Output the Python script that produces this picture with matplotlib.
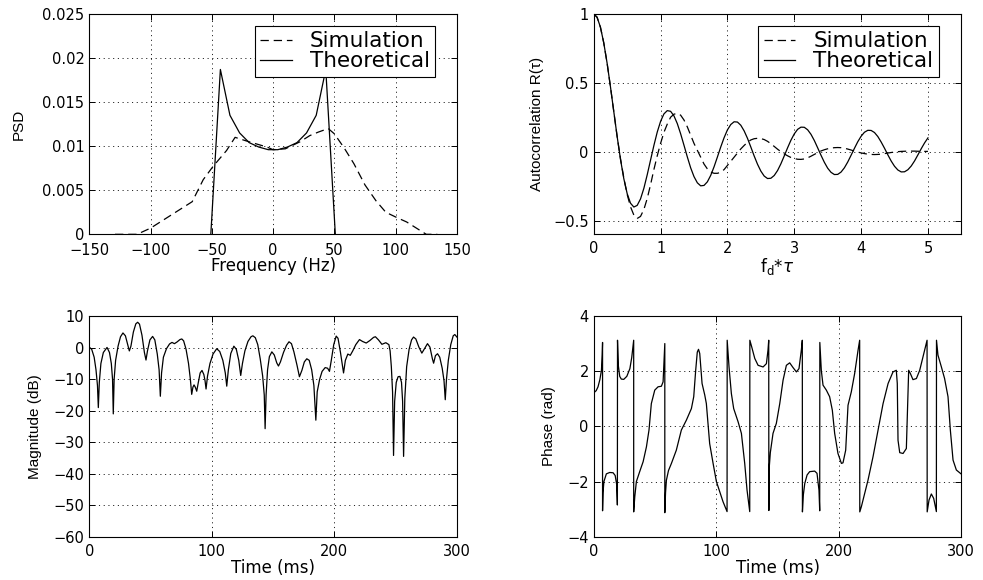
import matplotlib
matplotlib.use("Agg")
import matplotlib.pyplot as plt
from matplotlib.ticker import FuncFormatter, MultipleLocator
import numpy as np

# ---------------- data ----------------
# PSD (top-left)
psd_sim_f = [-129, -111, -100, -66, -57, -49, -38, -31, -22, -5, 0, 10, 22, 30, 37, 45,
             50, 58, 66, 75, 84, 92, 101, 109, 117, 125, 134]
psd_sim = [0, 0, 0.0007, 0.0037, 0.0062, 0.0077, 0.0095, 0.0110, 0.0106, 0.0099, 0.0096,
           0.0097, 0.0105, 0.0112, 0.0116, 0.0120, 0.0114, 0.0098, 0.0080, 0.0056, 0.0038,
           0.0025, 0.0019, 0.0014, 0.0007, 0, 0]
psd_th_f = [-50.8, -43.0, -35.2, -27.3, -19.5, -11.7, -3.9, 3.9, 11.7, 19.5, 27.3, 35.2, 43.0, 50.8]
psd_th = [0, 0.0187, 0.0135, 0.0115, 0.0104, 0.0099, 0.0096, 0.0096, 0.0099, 0.0104,
          0.0115, 0.0135, 0.0187, 0]

# Autocorrelation (top-right), tau axis 0..5 step 0.05
ac_tau = [round(0.05 * k, 2) for k in range(101)]
ac_th = [1.000, 0.976, 0.904, 0.790, 0.643, 0.472, 0.291, 0.111, -0.055, -0.196,
         -0.304, -0.374, -0.402, -0.390, -0.343, -0.266, -0.168, -0.061, 0.045, 0.142,
         0.220, 0.274, 0.298, 0.293, 0.260, 0.204, 0.130, 0.047, -0.038, -0.117,
         -0.181, -0.226, -0.248, -0.245, -0.219, -0.172, -0.110, -0.039, 0.034, 0.101,
         0.158, 0.197, 0.217, 0.215, 0.192, 0.151, 0.097, 0.034, -0.031, -0.091,
         -0.141, -0.177, -0.195, -0.193, -0.173, -0.137, -0.088, -0.031, 0.028, 0.083,
         0.129, 0.162, 0.178, 0.177, 0.159, 0.126, 0.081, 0.028, -0.026, -0.077,
         -0.120, -0.150, -0.166, -0.165, -0.148, -0.117, -0.075, -0.026, 0.024, 0.072,
         0.112, 0.141, 0.155, 0.154, 0.139, 0.110, 0.070, 0.025, -0.023, -0.068,
         -0.106, -0.133, -0.147, -0.146, -0.131, -0.104, -0.067, -0.023, 0.022, 0.064,
         0.100]
ac_sim = [1.000, 0.976, 0.904, 0.790, 0.643, 0.472, 0.291, 0.111, -0.050, -0.190,
          -0.310, -0.400, -0.460, -0.485, -0.470, -0.420, -0.340, -0.240, -0.130, -0.030,
          0.060, 0.140, 0.200, 0.250, 0.272, 0.278, 0.265, 0.230, 0.180, 0.120,
          0.060, 0.010, -0.040, -0.090, -0.125, -0.148, -0.157, -0.157, -0.150, -0.130,
          -0.100, -0.070, -0.040, -0.010, 0.020, 0.045, 0.068, 0.085, 0.094, 0.097,
          0.095, 0.088, 0.075, 0.058, 0.038, 0.018, 0.000, -0.016, -0.030, -0.042,
          -0.050, -0.055, -0.056, -0.053, -0.045, -0.033, -0.020, -0.007, 0.005, 0.014,
          0.021, 0.026, 0.029, 0.030, 0.029, 0.025, 0.019, 0.012, 0.004, -0.003,
          -0.009, -0.014, -0.018, -0.020, -0.021, -0.020, -0.018, -0.014, -0.010, -0.006,
          -0.003, 0.000, 0.002, 0.003, 0.004, 0.004, 0.004, 0.003, 0.003, 0.002,
          0.002]

# Magnitude in dB (bottom-left)
mag_t = [0, 2, 4, 5.5, 6.7, 7.4, 8.2, 9.5, 11.5, 14.5, 16.5, 18, 19, 19.6, 20.3, 21.5, 23.5,
         25.5, 27.5, 29.5, 31.5, 32.7, 34, 36, 38, 39.5, 41, 43, 45, 46.3, 47.5, 49.5, 51.7,
         53.5, 55.5, 57, 58, 59, 60.5, 63, 65.5, 67.5, 69.5, 71.5, 74, 75.5, 77, 79, 81,
         82.5, 83.6, 84.6, 85.5, 86.5, 87.7, 89, 90.5, 92, 93.5, 94.5, 95.3, 96.5, 98.5,
         101, 104, 106.5, 109, 111, 112.2, 113.5, 115.5, 118, 120, 122, 123.6, 125, 127,
         129.5, 132, 133.5, 135.5, 137.5, 139.5, 141.5, 142.8, 143.5, 144.3, 145.5, 147,
         149, 151, 153, 154.4, 156, 158.5, 161, 163, 165, 167, 169.5, 171.5, 173.5, 175.5,
         177.5, 179.5, 181.5, 183.3, 184.9, 186, 188, 190, 192.5, 194.5, 196, 197.5, 199.5,
         201.5, 203, 205, 207.5, 209, 211, 213, 215, 217.5, 220.5, 223, 226, 229, 232,
         233.5, 236, 238.8, 242, 244.5, 245.5, 246.5, 247.5, 248.3, 249.2, 250.5, 252,
         253.5, 254.8, 255.7, 256.5, 257.5, 259, 261, 263, 264.6, 266.5, 269, 271.4, 273.5,
         276, 278, 280, 281, 282.5, 284.2, 286, 288, 289.5, 290.5, 291.5, 293, 295, 297,
         298.3, 300]
mag_db = [0.2, -0.5, -3, -7, -12, -19, -11, -5, -1.5, 0.1, -1.5, -5, -10, -21, -10, -4, 0.5,
          3.5, 4.7, 3.8, 0.8, -1.0, 0.5, 5, 7.6, 8.1, 7.5, 4, -1.5, -3.9, -1, 2.5, 3.6,
          2.5, -2, -7, -15.4, -8, -3, -0.3, 1.2, 1.7, 1.3, 1.8, 2.6, 2.8, 2.2, -0.5, -5,
          -10, -14.8, -12.5, -11.8, -12.5, -13.8, -11, -8, -7.2, -8.5, -10.5, -13.1, -9, -5,
          -2, -0.3, -1.2, -4, -8, -12.2, -7, -1.8, 0.5, -0.5, -4, -8.8, -5, -1,
          2, 3.5, 3.8, 3.2, 1, -3.5, -9, -15, -25.7, -15, -7, -2.8,
          -1.3, -2.3, -4.8, -5.8, -4.5, -1.5, 0.8, 1.9, 1.3, -1.3, -5.5, -9.2, -7.2, -4.5,
          -3.5, -4, -7, -12, -23, -14, -10, -7.5, -6.3, -6.5, -7.5, -4, 1,
          3.7, 3, -1.5, -8, -4, -2, -2.4, -1, 1, 2.6, 2, 1.5, 2.3, 3.3,
          3.5, 2.5, 1.1, 1.6, 1, -1, -6, -14, -34.2, -17, -11, -9.2,
          -9.1, -11, -17, -34.5, -16, -6, -0.5, 2.5, 3.4, 2.8, 0.2, -1.7, -0.3,
          1.3, 0.2, -3.5, -4.9, -2.5, -1.9, -3, -6.5, -10.5, -16.5, -10, -4, 1, 3.8,
          4.2, 3.4]

# Phase in rad (bottom-right)
ph_t = [0, 2, 3.5, 5, 6.3, 6.9, 7.2, 7.2, 7.6, 8.3, 10.3, 13, 15.8, 17.5, 18.7, 19.3, 19.4,
        20.1, 21.2, 22.5, 24.5, 27, 29.5, 31, 32.2, 32.6, 32.6, 33.5, 34.8, 37.5, 40.3, 43,
        45.1, 47, 49.8, 52.5, 55.2, 56.6, 57.5, 58.0, 58.0, 58.6, 59.3, 61, 63.4, 67.4,
        71.5, 75.6, 79.7, 81.6, 83.2, 84.5, 85.5, 86.5, 88.4, 90.6, 91.9, 94.6, 97.4,
        100.1, 102.8, 105.5, 108.8, 108.9, 110.4, 112.3, 114.2, 117.8, 120.5, 123.2, 125.1,
        127.3, 127.4, 128.9, 131.4, 134.1, 138.2, 140.9, 142.2, 142.8, 142.9, 143.2, 144.1,
        146.3, 149, 151.8, 154.5, 157.2, 159.9, 162.6, 165.4, 167.5, 169.4, 170.2, 170.3,
        171, 172.2, 174.1, 176.2, 180.3, 182.2, 183.8, 184.4, 184.5, 185.7, 187.1, 189.8,
        192.5, 194.7, 196.6, 199.3, 202.1, 203.4, 205.6, 207.5, 210.2, 212.9, 215.7, 217.0,
        217.1, 218.4, 221.1, 223.8, 227.9, 232, 236.1, 240.2, 244.2, 246.9, 247.7, 248.3,
        249.7, 252.4, 255.1, 256, 257, 258.4, 260.5, 263.3, 266, 268.7, 272, 272.1, 273.6,
        275.5, 277.4, 279.6, 279.7, 280.9, 283.7, 286.3, 289.1, 291, 293.2, 295.9, 300]
ph_rad = [1.22, 1.30, 1.44, 1.7, 2.04, 2.6, 3.05, -3.06, -2.4, -2.0, -1.72, -1.67, -1.68,
          -1.78, -2.1, -2.85, 3.13, 2.2, 1.82, 1.72, 1.71, 1.82, 2.1, 2.5, 3.0, 3.13, -3.1,
          -2.55, -2.0, -1.64, -1.28, -0.74, -0.13, 0.83, 1.32, 1.44, 1.46, 1.62, 2.5, 3.01,
          -3.13, -2.4, -1.95, -1.6, -1.34, -0.86, -0.13, 0.23, 0.65, 1.08, 2.04, 2.7, 2.8,
          2.65, 1.56, 1.14, 0.83, -0.62, -1.34, -2.0, -2.37, -2.73, -3.09, 3.13, 2.16, 1.2,
          0.65, 0.17, -0.25, -1.34, -2.31, -3.09, 3.13, 2.89, 2.47, 2.22, 2.16, 2.28, 2.77,
          3.13, -3.05, -1.5, -0.95, -0.25, 0.11, 0.83, 1.68, 2.22, 2.31, 2.14, 1.98, 2.1,
          2.77, 3.13, -3.1, -2.5, -2.07, -1.76, -1.64, -1.62, -1.7, -2.31, -3.06, 3.05, 2.04,
          1.5, 1.32, 1.08, 0.59, -0.25, -0.98, -1.34, -1.32, -0.86, 0.77, 1.26, 1.92, 2.77,
          3.13, -3.1, -2.91, -2.43, -1.95, -1.10, -0.13, 0.83, 1.56, 1.98, 2.04, 1.56, -0.5,
          -0.95, -0.98, -0.80, 0.5, 2.04, 1.92, 1.70, 1.74, 2.04, 2.53, 3.13, -3.1, -2.67,
          -2.45, -2.61, -3.09, 3.13, 2.59, 2.16, 1.74, 1.08, -0.13, -1.22, -1.58, -1.73]

# ---------------- style ----------------
plt.rcParams['font.family'] = ['DejaVu Sans']
plt.rcParams['lines.scale_dashes'] = False
plt.rcParams['axes.linewidth'] = 0.8
plt.rcParams['xtick.direction'] = 'in'
plt.rcParams['ytick.direction'] = 'in'
plt.rcParams['xtick.top'] = True
plt.rcParams['ytick.right'] = True
plt.rcParams['xtick.major.size'] = 4
plt.rcParams['ytick.major.size'] = 4
plt.rcParams['xtick.major.width'] = 0.7
plt.rcParams['ytick.major.width'] = 0.7
plt.rcParams['xtick.labelsize'] = 10.5
plt.rcParams['ytick.labelsize'] = 10.5
plt.rcParams['xtick.major.pad'] = 5
plt.rcParams['ytick.major.pad'] = 3.5

XLAB_FS = 12
YLAB_FONT = dict(family=['Liberation Sans', 'DejaVu Sans'], size=11)
GRID = dict(color='k', linestyle=(0, (0.8, 2.6)), linewidth=0.6)
LW = 0.9
DASH = (0, (6, 3.5))
LEG = dict(loc='upper right', borderaxespad=0, fontsize=15.5, frameon=True,
           fancybox=False, framealpha=1, edgecolor='k', handlelength=1.45,
           handletextpad=0.85, labelspacing=0.0, borderpad=0.25)


def fmt(v, p):
    s = '%g' % v
    return s.replace('-', '\u2212')


def style(ax):
    ax.grid(True, **GRID)
    ax.xaxis.set_major_formatter(FuncFormatter(fmt))
    ax.yaxis.set_major_formatter(FuncFormatter(fmt))


fig = plt.figure(figsize=(9.83, 5.8), dpi=100)
L1, L2, W = 0.0908, 0.6040, 0.3740
B1, B2, H = 0.596, 0.0747, 0.380

# --- PSD ---
ax1 = fig.add_axes([L1, B1, W, H])
ax1.plot(psd_sim_f, psd_sim, color='k', lw=LW, linestyle=DASH, label='Simulation')
ax1.plot(psd_th_f, psd_th, color='k', lw=LW, label='Theoretical')
ax1.set_xlim(-150, 150)
ax1.set_ylim(0, 0.025)
ax1.xaxis.set_major_locator(MultipleLocator(50))
ax1.yaxis.set_major_locator(MultipleLocator(0.005))
style(ax1)
ax1.tick_params(axis='x', pad=6.5)
ax1.set_xlabel('Frequency (Hz)', fontsize=XLAB_FS, labelpad=-1)
ax1.set_ylabel('PSD', fontdict=YLAB_FONT, labelpad=12)
leg1 = ax1.legend(bbox_to_anchor=(0.941, 0.945), **LEG)
leg1.get_frame().set_linewidth(0.8)

# --- Autocorrelation ---
ax2 = fig.add_axes([L2, B1, W, H])
ax2.plot(ac_tau, ac_sim, color='k', lw=LW, linestyle=DASH, label='Simulation')
ax2.plot(ac_tau, ac_th, color='k', lw=LW, label='Theoretical')
ax2.set_xlim(0, 5.5)
ax2.set_ylim(-0.6, 1)
ax2.set_xticks([0, 1, 2, 3, 4, 5])
ax2.set_yticks([-0.5, 0, 0.5, 1])
style(ax2)
ax2.set_xlabel(r'f$_{\rm d}$*$\tau$', fontsize=XLAB_FS, labelpad=0)
ax2.set_ylabel('Autocorrelation R(\u03c4)', fontdict=YLAB_FONT, labelpad=6.5)
leg2 = ax2.legend(bbox_to_anchor=(0.938, 0.945), **LEG)
leg2.get_frame().set_linewidth(0.8)

# --- Magnitude ---
ax3 = fig.add_axes([L1, B2, W, H])
ax3.plot(mag_t, mag_db, color='k', lw=LW)
ax3.set_xlim(0, 300)
ax3.set_ylim(-60, 10)
ax3.xaxis.set_major_locator(MultipleLocator(100))
ax3.yaxis.set_major_locator(MultipleLocator(10))
style(ax3)
ax3.set_xlabel('Time (ms)', fontsize=XLAB_FS, labelpad=0)
ax3.set_ylabel('Magnitude (dB)', fontdict=YLAB_FONT, labelpad=8)

# --- Phase ---
ax4 = fig.add_axes([L2, B2, W, H])
ax4.plot(ph_t, ph_rad, color='k', lw=LW)
ax4.set_xlim(0, 300)
ax4.set_ylim(-4, 4)
ax4.xaxis.set_major_locator(MultipleLocator(100))
ax4.yaxis.set_major_locator(MultipleLocator(2))
style(ax4)
ax4.set_xlabel('Time (ms)', fontsize=XLAB_FS, labelpad=0)
ax4.set_ylabel('Phase (rad)', fontdict=YLAB_FONT, labelpad=8)

fig.savefig('out.png', dpi=100)
